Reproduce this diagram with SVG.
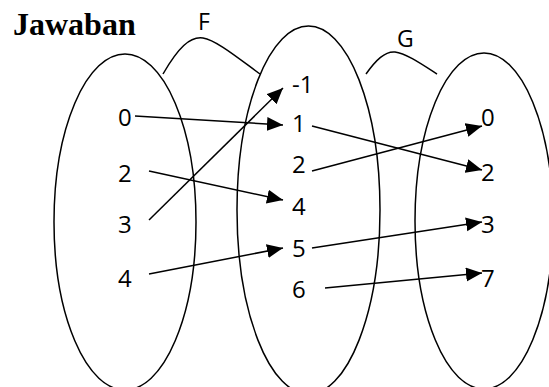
<svg xmlns="http://www.w3.org/2000/svg" width="549" height="387" viewBox="0 0 549 387">
<style>
.set{fill:none;stroke:#000;stroke-width:1.5}
.arc{fill:none;stroke:#000;stroke-width:1.5}
.num{font-family:"Open Sans","Noto Sans",sans-serif;font-size:24px;fill:#000}
.lbl{font-family:"Open Sans","Noto Sans",sans-serif;font-size:23px;fill:#000}
.title{font-family:"Liberation Serif","Times New Roman",serif;font-weight:bold;font-size:32px;fill:#000}
.conn line{stroke:#000;stroke-width:1.5;marker-end:url(#ah)}
</style>
<defs>
<marker id="ah" markerUnits="userSpaceOnUse" markerWidth="17" markerHeight="15" refX="16" refY="7" orient="auto">
<path d="M0,0 L16,7 L0,14 z" fill="#000"/>
</marker>
</defs>
<rect width="549" height="387" fill="#fff"/>
<text class="title" x="13" y="35">Jawaban</text>
<g id="setA">
<ellipse class="set" cx="125" cy="222" rx="71" ry="168"/>
<text class="num" x="118" y="126">0</text>
<text class="num" x="118" y="182">2</text>
<text class="num" x="118" y="233">3</text>
<text class="num" x="118" y="287">4</text>
</g>
<g id="setB">
<ellipse class="set" cx="308.5" cy="210" rx="71.5" ry="184"/>
<text class="num" x="292" y="93">-1</text>
<text class="num" x="292" y="132">1</text>
<text class="num" x="292" y="173">2</text>
<text class="num" x="292" y="215">4</text>
<text class="num" x="292" y="257">5</text>
<text class="num" x="292" y="298">6</text>
</g>
<g id="setC">
<ellipse class="set" cx="484" cy="221" rx="69" ry="168"/>
<text class="num" x="481" y="126">0</text>
<text class="num" x="481" y="181">2</text>
<text class="num" x="481" y="233">3</text>
<text class="num" x="481" y="287">7</text>
</g>
<g id="labelF">
<path class="arc" d="M163,74 C178,48 190,36 203,38 C216,40 238,58 260,74"/>
<text class="lbl" x="198" y="30">F</text>
</g>
<g id="labelG">
<path class="arc" d="M366,74 C376,60 385,51 395,52 C405,53 420,63 437,74"/>
<text class="lbl" x="397" y="47">G</text>
</g>
<g class="conn" id="connectors">
<line x1="135" y1="116" x2="283" y2="125"/>
<line x1="149" y1="220" x2="283" y2="88"/>
<line x1="149" y1="171" x2="283" y2="200"/>
<line x1="149" y1="274" x2="283" y2="248"/>
<line x1="312" y1="126" x2="482" y2="170"/>
<line x1="312" y1="171" x2="482" y2="126"/>
<line x1="312" y1="248" x2="482" y2="222"/>
<line x1="325" y1="288" x2="482" y2="273"/>
</g>
</svg>
